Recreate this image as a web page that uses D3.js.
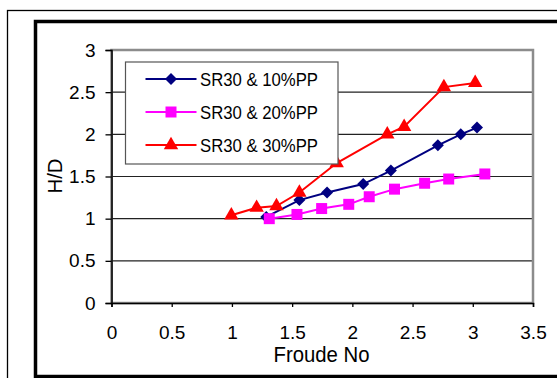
<!DOCTYPE html>
<html>
<head>
<meta charset="utf-8">
<script src="https://cdn.jsdelivr.net/npm/d3@7"></script>
<style>
  body { margin: 0; background: #fff; }
  svg { display: block; font-family: "Liberation Sans", Arial, sans-serif; }
</style>
</head>
<body>
<div id="chart"></div>
<script>
// data
const seriesNames = ["SR30 & 10%PP", "SR30 & 20%PP", "SR30 & 30%PP"];
const fr10 = [1.285, 1.56, 1.79, 2.09, 2.32, 2.71, 2.90, 3.035];
const hd10 = [1.02, 1.22, 1.31, 1.41, 1.57, 1.87, 2.00, 2.08];
const fr20 = [1.31, 1.54, 1.745, 1.97, 2.14, 2.35, 2.60, 2.80, 3.10];
const hd20 = [1.00, 1.05, 1.12, 1.17, 1.26, 1.35, 1.42, 1.47, 1.53];
const fr30 = [0.995, 1.205, 1.37, 1.56, 1.87, 2.29, 2.43, 2.76, 3.02];
const hd30 = [1.04, 1.13, 1.15, 1.31, 1.66, 2.00, 2.09, 2.56, 2.61];
const xTicks = [0, 0.5, 1, 1.5, 2, 2.5, 3, 3.5];
const yTicks = [0, 0.5, 1, 1.5, 2, 2.5, 3];

const width = 557, height = 378;
const margin = {top: 50, left: 111.5, right: 24, bottom: 75};

const canvas = d3.select("#chart")
    .append("svg")
    .attr("width", width)
    .attr("height", height);

// frames
canvas.append("rect")
    .attr("x", 7.5).attr("y", 10.5)
    .attr("width", 600).attr("height", 400)
    .attr("fill", "none").attr("stroke", "#000").attr("stroke-width", 1.3);
canvas.append("rect")
    .attr("x", 35.5).attr("y", 21.5)
    .attr("width", 600).attr("height", 355)
    .attr("fill", "none").attr("stroke", "#000").attr("stroke-width", 3.5);

const xScale = d3.scaleLinear()
    .domain([0, 3.5])
    .range([margin.left, width - margin.right]);

const yScale = d3.scaleLinear()
    .domain([0, 3])
    .range([height - margin.bottom, margin.top]);

// gridlines
canvas.append("g")
    .selectAll("line")
    .data(yTicks.filter(d => d > 0 && d < 3))
    .enter()
    .append("line")
        .attr("x1", margin.left)
        .attr("x2", width - margin.right)
        .attr("y1", d => yScale(d))
        .attr("y2", d => yScale(d))
        .attr("stroke", "#222")
        .attr("stroke-width", 1.2);

// plot border
canvas.append("rect")
    .attr("x", margin.left)
    .attr("y", margin.top)
    .attr("width", width - margin.right - margin.left)
    .attr("height", height - margin.bottom - margin.top)
    .attr("fill", "none")
    .attr("stroke", "#8c8c8c")
    .attr("stroke-width", 2.5);

const xAxis = canvas.append("g")
    .attr("transform", `translate(0, ${height - margin.bottom})`)
    .call(d3.axisBottom(xScale).tickValues(xTicks).tickSize(4).tickPadding(19).tickFormat(d3.format("")));

const yAxis = canvas.append("g")
    .attr("transform", `translate(${margin.left}, 0)`)
    .call(d3.axisLeft(yScale).tickValues(yTicks).tickSize(6).tickPadding(10).tickFormat(d3.format("")));

[xAxis, yAxis].forEach(a => {
    a.select(".domain").attr("stroke", "#000").attr("stroke-width", 1.5);
    a.selectAll(".tick line").attr("stroke", "#000").attr("stroke-width", 1.3);
    a.selectAll(".tick text")
        .attr("font-size", 19)
        .attr("font-family", "Liberation Sans, Arial, sans-serif")
        .attr("fill", "#000");
});

canvas.append("text")
    .attr("x", 321.5)
    .attr("y", 362)
    .attr("text-anchor", "middle")
    .attr("font-size", 22)
    .attr("textLength", 96)
    .attr("lengthAdjust", "spacingAndGlyphs")
    .text("Froude No");

canvas.append("text")
    .attr("transform", "rotate(-90)")
    .attr("x", -176)
    .attr("y", 62)
    .attr("text-anchor", "middle")
    .attr("font-size", 21)
    .attr("textLength", 35)
    .attr("lengthAdjust", "spacingAndGlyphs")
    .text("H/D");

const diamond = {
    draw(ctx, size) {
        const r = Math.sqrt(size / 2);
        ctx.moveTo(0, -r); ctx.lineTo(r, 0); ctx.lineTo(0, r); ctx.lineTo(-r, 0); ctx.closePath();
    }
};

const series = [
    {name: seriesNames[0], x: fr10, y: hd10, color: "#000080", shape: diamond, size: 72},
    {name: seriesNames[1], x: fr20, y: hd20, color: "#ff00ff", shape: d3.symbolSquare, size: 121},
    {name: seriesNames[2], x: fr30, y: hd30, color: "#ff0000", shape: d3.symbolTriangle, size: 90}
];

const line = d3.line()
    .x(d => xScale(d[0]))
    .y(d => yScale(d[1]));

series.forEach(s => {
    const pts = s.x.map((v, i) => [v, s.y[i]]);
    canvas.append("path")
        .datum(pts)
        .attr("d", line)
        .attr("fill", "none")
        .attr("stroke", s.color)
        .attr("stroke-width", 2);
    canvas.append("g")
        .selectAll("path")
        .data(pts)
        .enter()
        .append("path")
            .attr("d", d3.symbol().type(s.shape).size(s.size))
            .attr("transform", d => `translate(${xScale(d[0])}, ${yScale(d[1])})`)
            .attr("fill", s.color);
});

// legend
const legend = canvas.append("g");
legend.append("rect")
    .attr("x", 125.5).attr("y", 62)
    .attr("width", 212.5).attr("height", 102)
    .attr("fill", "#fff")
    .attr("stroke", "#555")
    .attr("stroke-width", 1.2);

series.forEach((s, i) => {
    const ly = 79 + i * 33;
    legend.append("line")
        .attr("x1", 145.5).attr("x2", 196.5)
        .attr("y1", ly).attr("y2", ly)
        .attr("stroke", s.color).attr("stroke-width", 2);
    legend.append("path")
        .attr("d", d3.symbol().type(s.shape).size(s.size))
        .attr("transform", `translate(171, ${ly})`)
        .attr("fill", s.color);
    legend.append("text")
        .attr("x", 200)
        .attr("y", ly + 7)
        .attr("font-size", 19)
        .attr("textLength", 118)
        .attr("lengthAdjust", "spacingAndGlyphs")
        .text(s.name);
});
</script>
</body>
</html>
